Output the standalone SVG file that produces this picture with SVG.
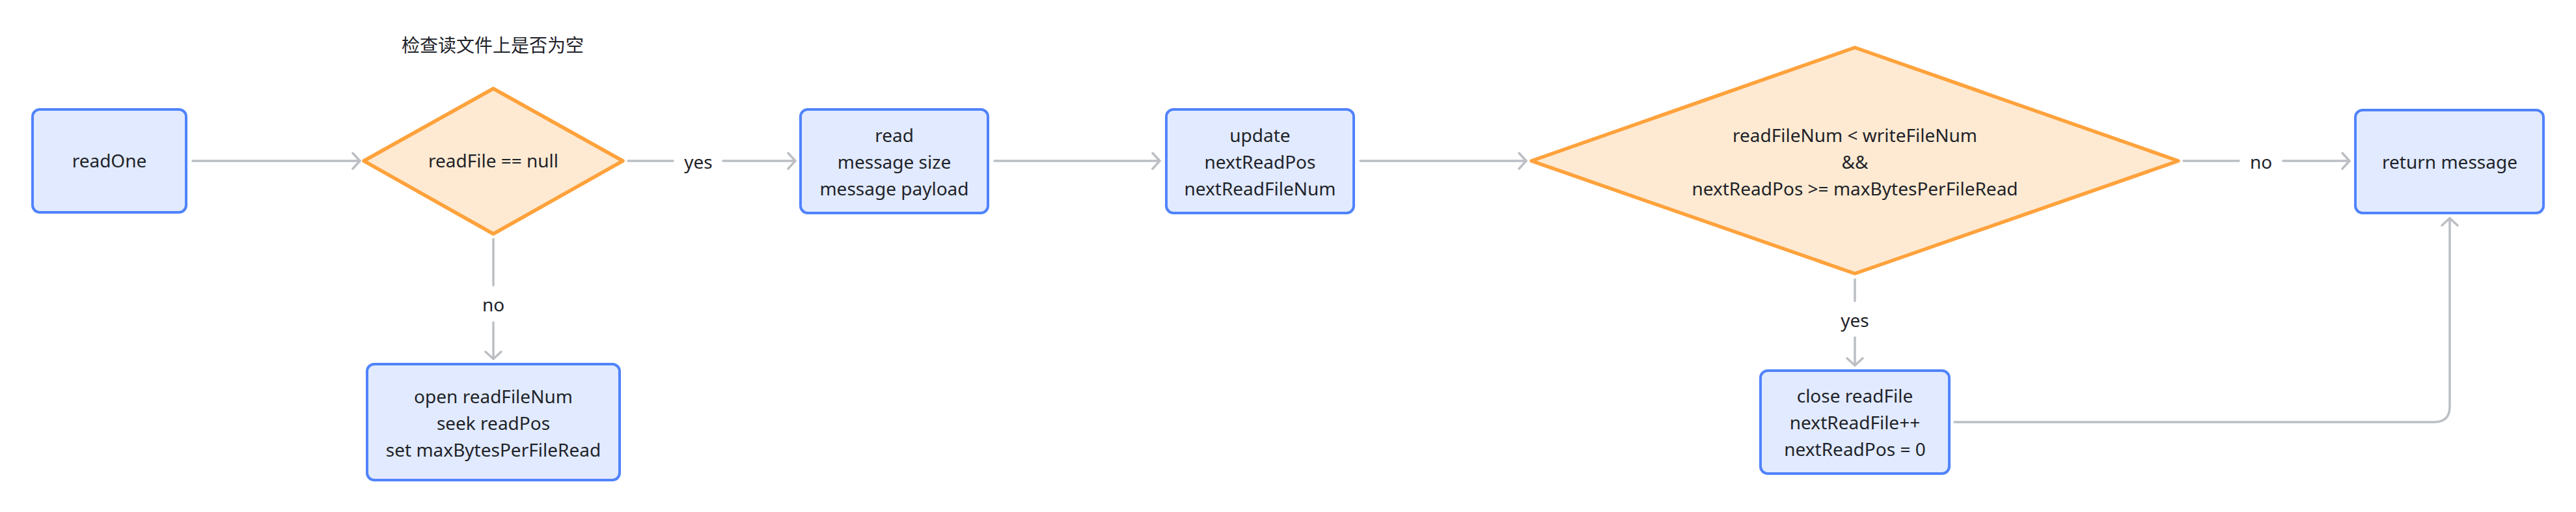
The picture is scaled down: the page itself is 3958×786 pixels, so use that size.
<svg xmlns="http://www.w3.org/2000/svg" width="3958" height="786" viewBox="0 0 3958 786">
<defs>
<style>
.box{fill:#e1eaff;stroke:#5083fb;stroke-width:4}
.dia{fill:#feead2;stroke:#ffa23c;stroke-width:5.5;stroke-linejoin:round}
.t{font-family:"Noto Sans","Liberation Sans",sans-serif;font-size:28px;fill:#1f2329;text-anchor:middle}
.cjk{font-family:"Noto Sans CJK SC","Noto Sans",sans-serif;font-size:28px;fill:#1f2329;text-anchor:middle}
.c{fill:none;stroke:#bbbfc4;stroke-width:3.5;stroke-linecap:round;stroke-linejoin:round}
</style>
<marker id="arr" markerUnits="userSpaceOnUse" markerWidth="30" markerHeight="30" viewBox="-15 -15 30 30" refX="0" refY="0" orient="auto">
<path d="M -11 -12 L 0 0 L -11 12" fill="none" stroke="#bbbfc4" stroke-width="3.5" stroke-linecap="round" stroke-linejoin="round"/>
</marker>
</defs>
<rect width="3958" height="786" fill="#ffffff"/>
<g id="connectors">
<path class="c" d="M 296 247 L 553 247" marker-end="url(#arr)"/>
<path class="c" d="M 965 247 L 1034 247"/>
<path class="c" d="M 1111 247 L 1222 247" marker-end="url(#arr)"/>
<text class="t" x="1073" y="259">yes</text>
<path class="c" d="M 758 367 L 758 438"/>
<path class="c" d="M 758 495 L 758 551" marker-end="url(#arr)"/>
<text class="t" x="758" y="478">no</text>
<path class="c" d="M 1528 247 L 1782 247" marker-end="url(#arr)"/>
<path class="c" d="M 2090 247 L 2345 247" marker-end="url(#arr)"/>
<path class="c" d="M 3355 247 L 3440 247"/>
<path class="c" d="M 3508 247 L 3610 247" marker-end="url(#arr)"/>
<text class="t" x="3474" y="259">no</text>
<path class="c" d="M 2850 429 L 2850 462"/>
<path class="c" d="M 2850 518 L 2850 561" marker-end="url(#arr)"/>
<text class="t" x="2850" y="502">yes</text>
<path class="c" d="M 3003 648 L 3740 648 Q 3764 648 3764 624 L 3764 335" marker-end="url(#arr)"/>
</g>
<g id="title">
<text class="cjk" x="757" y="80">检查读文件上是否为空</text>
</g>
<g id="readOne">
<rect class="box" x="50" y="168" width="236" height="158" rx="11"/>
<text class="t" x="168" y="257">readOne</text>
</g>
<g id="checkNull">
<polygon class="dia" points="758,136 957,247 758,359 559,247"/>
<text class="t" x="758" y="257">readFile == null</text>
</g>
<g id="openFile">
<rect class="box" x="564" y="559" width="388" height="178" rx="11"/>
<text class="t" x="758" y="619">open readFileNum</text>
<text class="t" x="758" y="660">seek readPos</text>
<text class="t" x="758" y="701">set maxBytesPerFileRead</text>
</g>
<g id="read">
<rect class="box" x="1230" y="168" width="288" height="159" rx="11"/>
<text class="t" x="1374" y="218">read</text>
<text class="t" x="1374" y="259">message size</text>
<text class="t" x="1374" y="300">message payload</text>
</g>
<g id="update">
<rect class="box" x="1792" y="168" width="288" height="159" rx="11"/>
<text class="t" x="1936" y="218">update</text>
<text class="t" x="1936" y="259">nextReadPos</text>
<text class="t" x="1936" y="300">nextReadFileNum</text>
</g>
<g id="checkEnd">
<polygon class="dia" points="2850,73 3347,247 2850,420 2353,247"/>
<text class="t" x="2850" y="218">readFileNum &lt; writeFileNum</text>
<text class="t" x="2850" y="259">&amp;&amp;</text>
<text class="t" x="2850" y="300">nextReadPos &gt;= maxBytesPerFileRead</text>
</g>
<g id="closeFile">
<rect class="box" x="2705" y="569" width="290" height="158" rx="11"/>
<text class="t" x="2850" y="618">close readFile</text>
<text class="t" x="2850" y="659">nextReadFile++</text>
<text class="t" x="2850" y="700">nextReadPos = 0</text>
</g>
<g id="returnMessage">
<rect class="box" x="3619" y="169" width="289" height="158" rx="11"/>
<text class="t" x="3764" y="259">return message</text>
</g>
</svg>
